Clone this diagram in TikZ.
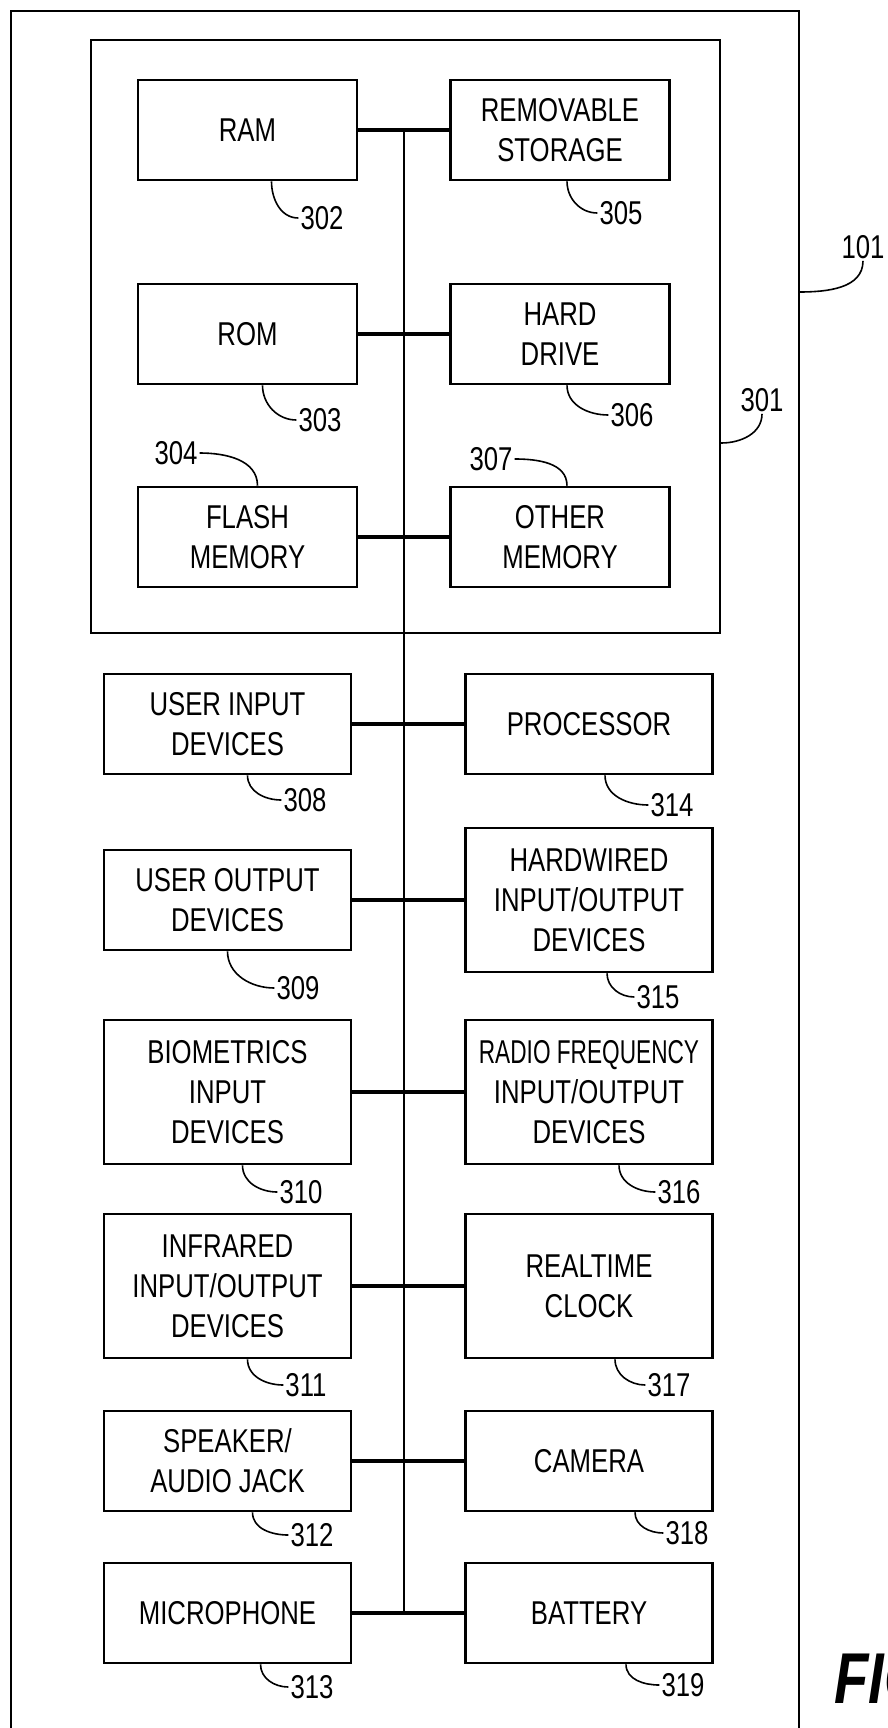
\documentclass[tikz,border=0pt]{standalone}
\usepackage{fontspec}
\setmainfont{Liberation Sans}[FakeStretch=0.78]
\usepackage{graphicx}
\usepackage{tikz}
\usetikzlibrary{positioning}

\begin{document}
\begin{tikzpicture}[x=1pt,y=-1pt,node distance=361.5pt]
  \tikzstyle{every node}=[font=\fontsize{33}{40}\selectfont]
  \tikzstyle{membox}=[draw,line width=2.6pt,align=center,minimum width=219pt,minimum height=100pt,inner sep=0pt]
  \tikzstyle{devbox}=[draw,line width=2.6pt,align=center,minimum width=247pt,minimum height=100pt,inner sep=0pt]
  \tikzstyle{tallbox}=[devbox,minimum height=144pt]
  \tikzstyle{frame}=[draw,line width=2.4pt]
  \tikzstyle{link}=[line width=3.2pt]
  \tikzstyle{busline}=[line width=1.8pt]
  \tikzstyle{leader}=[line width=1.6pt]
  \tikzstyle{ref}=[inner sep=2pt]

  \useasboundingbox (0,0) rectangle (887,1728);
  \clip (0,0) rectangle (887,1728);

  % device outline (open at the bottom) and memory block
  \draw[frame] (11,1760) -- (11,11) -- (799,11) -- (799,1760);
  \coordinate (devedge) at (799,292);
  \node[frame,minimum width=629pt,minimum height=593pt,inner sep=0pt] (mem) at (405.5,336.5) {};

  \node[membox] (ram)       at (247.5,130)                         {RAM};
  \node[membox] (removable) [right of=ram,node distance=312.5pt]   {REMOVABLE\\STORAGE};
  \node[membox] (rom)       at (247.5,334)                         {ROM};
  \node[membox] (harddrive) [right of=rom,node distance=312.5pt]   {HARD\\DRIVE};
  \node[membox] (flash)     at (247.5,537)                         {FLASH\\MEMORY};
  \node[membox] (othermem)  [right of=flash,node distance=312.5pt] {OTHER\\MEMORY};

  \node[devbox]  (userin)     at (227.5,724)          {USER INPUT\\DEVICES};
  \node[devbox]  (processor)  [right of=userin]       {PROCESSOR};
  \node[devbox]  (userout)    at (227.5,900)          {USER OUTPUT\\DEVICES};
  \node[tallbox] (hardwired)  [right of=userout]      {HARDWIRED\\INPUT/OUTPUT\\DEVICES};
  \node[tallbox] (biometric)  at (227.5,1092)         {BIOMETRICS\\INPUT\\DEVICES};
  \node[tallbox] (radio)      [right of=biometric]    {\scalebox{0.88}[1]{RADIO FREQUENCY}\\INPUT/OUTPUT\\DEVICES};
  \node[tallbox] (infrared)   at (227.5,1286)         {INFRARED\\INPUT/OUTPUT\\DEVICES};
  \node[tallbox] (clock)      [right of=infrared]     {REALTIME\\CLOCK};
  \node[devbox]  (speaker)    at (227.5,1461)         {SPEAKER/\\AUDIO JACK};
  \node[devbox]  (camera)     [right of=speaker]      {CAMERA};
  \node[devbox]  (microphone) at (227.5,1613)         {MICROPHONE};
  \node[devbox]  (battery)    [right of=microphone]   {BATTERY};

  % bus
  \coordinate (bus) at (404,0);
  \draw[busline] (bus |- ram.east) -- (bus |- microphone.east);

  \path[link]
  (ram)        edge (removable)
  (rom)        edge (harddrive)
  (flash)      edge (othermem)
  (userin)     edge (processor)
  (userout)    edge (hardwired)
  (biometric)  edge (radio)
  (infrared)   edge (clock)
  (speaker)    edge (camera)
  (microphone) edge (battery)
  ;

  % reference numerals
  \node[ref] (r101) at (863,247)  {101};
  \node[ref] (r301) at (762,400)  {301};
  \node[ref] (r302) at (322,218)  {302};
  \node[ref] (r303) at (320,420)  {303};
  \node[ref] (r304) at (176,453)  {304};
  \node[ref] (r305) at (621,213)  {305};
  \node[ref] (r306) at (632,415)  {306};
  \node[ref] (r307) at (491,459)  {307};
  \node[ref] (r308) at (305,800)  {308};
  \node[ref] (r309) at (298,988)  {309};
  \node[ref] (r310) at (301,1192) {310};
  \node[ref] (r311) at (306,1385) {311};
  \node[ref] (r312) at (312,1535) {312};
  \node[ref] (r313) at (312,1687) {313};
  \node[ref] (r314) at (672,805)  {314};
  \node[ref] (r315) at (658,997)  {315};
  \node[ref] (r316) at (679,1192) {316};
  \node[ref] (r317) at (669,1385) {317};
  \node[ref] (r318) at (687,1533) {318};
  \node[ref] (r319) at (683,1685) {319};

  \path[leader]
  (devedge)                      edge[out=0,in=-90]   (r101.south)
  ([yshift=-106.5pt]mem.east)    edge[out=0,in=-90]   (r301.south)
  ([xshift=24pt]ram.south)       edge[out=-90,in=180] (r302.west)
  ([xshift=15pt]rom.south)       edge[out=-90,in=180] (r303.west)
  (r304.east)                    edge[out=0,in=90]    ([xshift=10pt]flash.north)
  ([xshift=7pt]removable.south)  edge[out=-90,in=180] (r305.west)
  ([xshift=7pt]harddrive.south)  edge[out=-90,in=180] (r306.west)
  (r307.east)                    edge[out=0,in=90]    ([xshift=7pt]othermem.north)
  ([xshift=20pt]userin.south)    edge[out=-90,in=180] (r308.west)
  (userout.south)                edge[out=-90,in=180] (r309.west)
  ([xshift=15pt]biometric.south) edge[out=-90,in=180] (r310.west)
  ([xshift=20pt]infrared.south)  edge[out=-90,in=180] (r311.west)
  ([xshift=25pt]speaker.south)   edge[out=-90,in=180] (r312.west)
  ([xshift=33pt]microphone.south) edge[out=-90,in=180] (r313.west)
  ([xshift=16pt]processor.south) edge[out=-90,in=180] (r314.west)
  ([xshift=18pt]hardwired.south) edge[out=-90,in=180] (r315.west)
  ([xshift=30pt]radio.south)     edge[out=-90,in=180] (r316.west)
  ([xshift=26pt]clock.south)     edge[out=-90,in=180] (r317.west)
  ([xshift=46pt]camera.south)    edge[out=-90,in=180] (r318.west)
  ([xshift=37pt]battery.south)   edge[out=-90,in=180] (r319.west)
  ;

  \node[anchor=west,font=\fontsize{72}{80}\selectfont\bfseries\itshape] (fig) at (831,1679) {FIG. 3};
\end{tikzpicture}
\end{document}
